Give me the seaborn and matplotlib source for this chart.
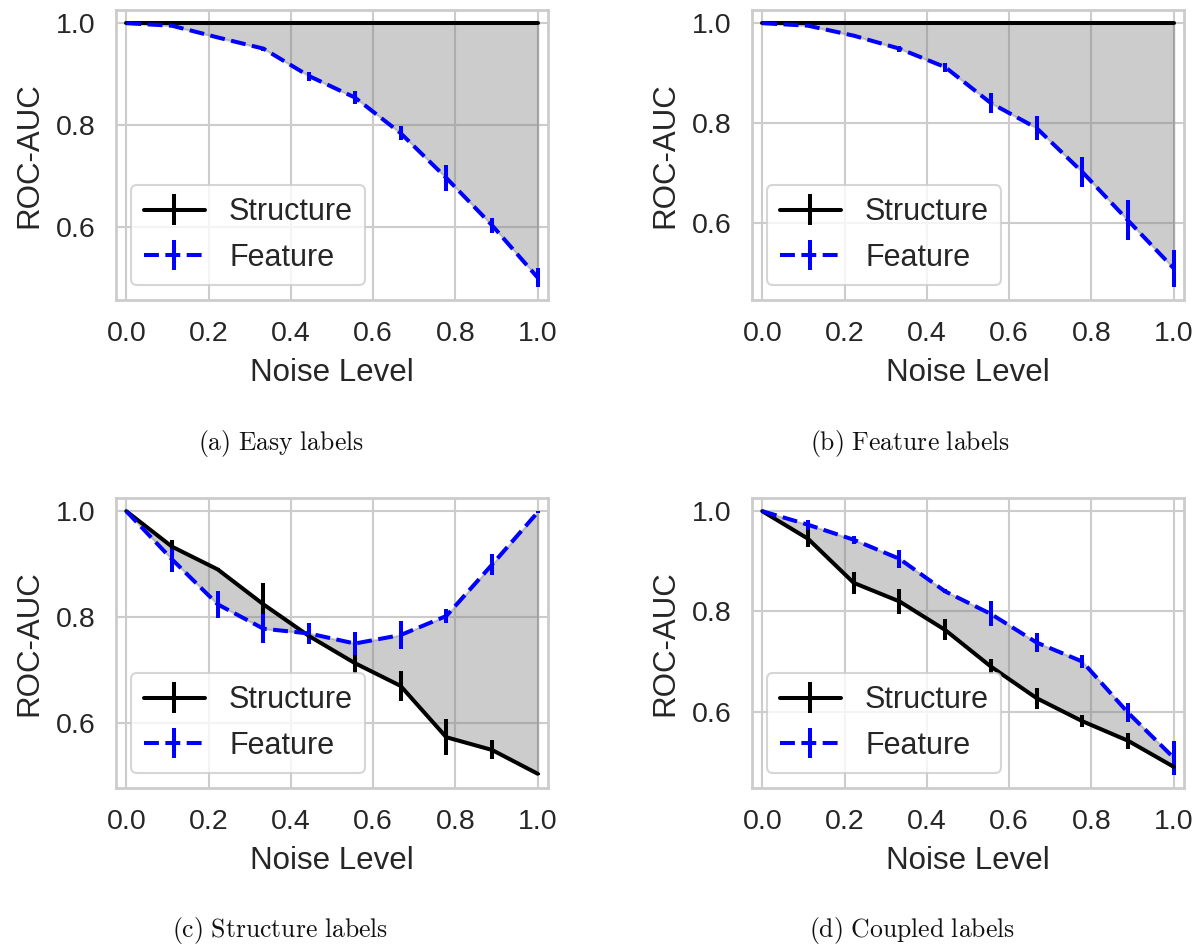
import numpy as np
import matplotlib
matplotlib.use("Agg")
import matplotlib.pyplot as plt
import seaborn as sns

# ---- data ----
noise_level = [0, 1/9, 2/9, 3/9, 4/9, 5/9, 6/9, 7/9, 8/9, 1.0]

easy_structure = [1.0] * 10
easy_structure_err = [0.0] * 10
easy_feature = [1.0, 0.995, 0.972, 0.950, 0.896, 0.854, 0.784, 0.696, 0.603, 0.500]
easy_feature_err = [0.0, 0.002, 0.003, 0.004, 0.009, 0.013, 0.013, 0.026, 0.015, 0.018]

feat_structure = [1.0] * 10
feat_structure_err = [0.0] * 10
feat_feature = [1.0, 0.995, 0.975, 0.949, 0.912, 0.840, 0.790, 0.702, 0.605, 0.509]
feat_feature_err = [0.0, 0.002, 0.003, 0.006, 0.009, 0.020, 0.024, 0.030, 0.040, 0.037]

struct_structure = [1.0, 0.933, 0.890, 0.824, 0.764, 0.713, 0.670, 0.573, 0.549, 0.504]
struct_structure_err = [0.0, 0.013, 0.003, 0.040, 0.013, 0.019, 0.029, 0.034, 0.018, 0.002]
struct_feature = [1.0, 0.909, 0.824, 0.778, 0.769, 0.750, 0.766, 0.802, 0.899, 0.998]
struct_feature_err = [0.0, 0.024, 0.025, 0.027, 0.020, 0.022, 0.027, 0.014, 0.020, 0.002]

coup_structure = [1.0, 0.945, 0.857, 0.820, 0.763, 0.690, 0.627, 0.581, 0.542, 0.490]
coup_structure_err = [0.0, 0.017, 0.022, 0.025, 0.021, 0.015, 0.021, 0.012, 0.016, 0.004]
coup_feature = [1.0, 0.973, 0.943, 0.905, 0.840, 0.795, 0.738, 0.700, 0.598, 0.508]
coup_feature_err = [0.0, 0.010, 0.008, 0.018, 0.004, 0.025, 0.019, 0.013, 0.019, 0.034]

captions = ["(a) Easy labels", "(b) Feature labels",
            "(c) Structure labels", "(d) Coupled labels"]
series_labels = ["Structure", "Feature"]
x_ticks = [0.0, 0.2, 0.4, 0.6, 0.8, 1.0]
y_ticks = [0.6, 0.8, 1.0]

panels = [
    (easy_structure, easy_structure_err, easy_feature, easy_feature_err),
    (feat_structure, feat_structure_err, feat_feature, feat_feature_err),
    (struct_structure, struct_structure_err, struct_feature, struct_feature_err),
    (coup_structure, coup_structure_err, coup_feature, coup_feature_err),
]

# ---- style ----
sns.set_theme(style="whitegrid", context="talk")
plt.rcParams["font.family"] = ["Liberation Sans", "DejaVu Sans"]
plt.rcParams["mathtext.fontset"] = "cm"

W, H = 1200, 946
fig = plt.figure(figsize=(W / 100, H / 100), dpi=100)

# axes boxes in pixels: left, top, right, bottom
boxes = [(116, 10, 548, 300), (752, 10, 1184, 300),
         (116, 498, 548, 788), (752, 498, 1184, 788)]
cap_pos = [(281, 443), (910, 443), (280, 930), (912, 930)]

lw = 2.9
for i, (box, data) in enumerate(zip(boxes, panels)):
    l, t, r, b = box
    ax = fig.add_axes([l / W, (H - b) / H, (r - l) / W, (b - t) / H])
    s, se, f, fe = data
    x = np.array(noise_level)
    ax.fill_between(x, s, f, color="gray", alpha=0.4, zorder=1)
    ax.errorbar(x, s, yerr=se, color="black", linestyle="-", linewidth=lw,
                elinewidth=lw, capsize=0, label=series_labels[0], zorder=3)
    ax.errorbar(x, f, yerr=fe, color="blue", linestyle="--", linewidth=lw,
                elinewidth=lw, capsize=0, label=series_labels[1], zorder=3)
    ax.margins(x=0.025, y=0.05)
    ax.set_xticks(x_ticks)
    ax.set_yticks(y_ticks)
    ax.set_xticklabels([f"{v:.1f}" for v in x_ticks])
    ax.set_yticklabels([f"{v:.1f}" for v in y_ticks])
    ax.tick_params(axis="both", labelsize=20.5, pad=15, length=0)
    ax.set_xlabel("Noise Level", fontsize=22.5, labelpad=8)
    ax.set_ylabel("ROC-AUC", fontsize=22.5, labelpad=8)
    ax.legend(loc="lower left", fontsize=22, frameon=True)
    for sp in ax.spines.values():
        sp.set_color("#cccccc")
        sp.set_linewidth(2)
    cx, cy = cap_pos[i]
    txt = captions[i].replace(" ", r"\ ")
    fig.text(cx / W, 1 - cy / H, r"$\mathrm{" + txt + "}$", fontsize=18.5,
             ha="center", va="center", color="#111111")

fig.savefig("out.png", dpi=100)
